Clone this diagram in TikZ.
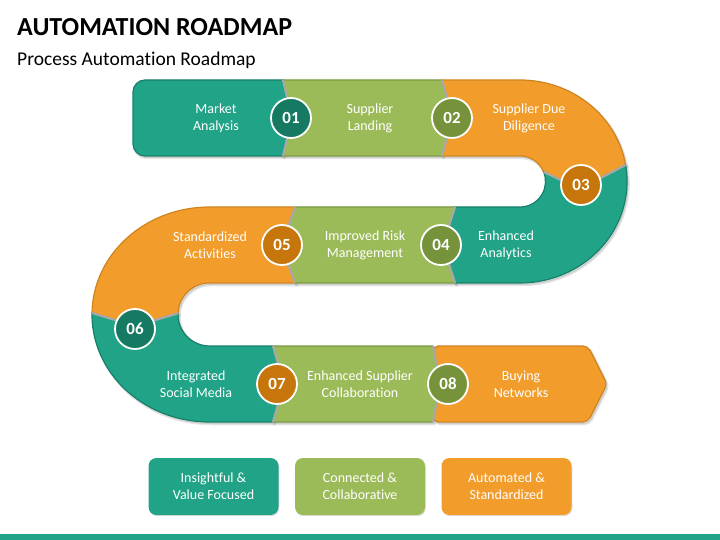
\documentclass[tikz,border=0pt]{standalone}
\usepackage{fontspec}
\setmainfont{Carlito}[Ligatures=NoCommon]
\usetikzlibrary{shadows}
\definecolor{cTeal}{HTML}{20A386}
\definecolor{cTealD}{HTML}{17806A}
\definecolor{cTealC}{HTML}{167A62}
\definecolor{cGreen}{HTML}{9BBB59}
\definecolor{cGreenD}{HTML}{7A9A3F}
\definecolor{cGreenC}{HTML}{76933C}
\definecolor{cOrange}{HTML}{F29C2B}
\definecolor{cOrangeD}{HTML}{CF8420}
\definecolor{cOrangeC}{HTML}{C7760C}
\definecolor{cSep}{HTML}{A8A8A8}
\begin{document}
\begin{tikzpicture}[x=1pt,y=-1pt,
  every node/.style={font=\fontsize{14}{17}\selectfont, text=white, align=center},
  seg/.style={line width=1.2pt, line join=round},
  tealseg/.style={seg, fill=cTeal, draw=cTealD},
  greenseg/.style={seg, fill=cGreen, draw=cGreenD},
  orangeseg/.style={seg, fill=cOrange, draw=cOrangeD},
  sepline/.style={draw=cSep, line width=2.2pt, line join=round},
  shadowfill/.style={fill=black, draw=black, line width=2.5pt, opacity=0.10},
  num/.style={circle, minimum size=40pt, inner sep=0pt, draw=white, line width=1.8pt,
    font=\fontsize{17}{17}\bfseries\selectfont},
  legendbox/.style={rounded corners=8pt, minimum width=130pt, minimum height=57pt,
    inner sep=0pt, drop shadow={shadow xshift=0.8pt, shadow yshift=-1.2pt, opacity=0.25}}
]
\useasboundingbox (0,0) rectangle (720,540);
\fill[white] (0,0) rectangle (720,540);

\def\pA{(133,92) arc[start angle=180,end angle=270,radius=12] -- (283,80) -- (292,118) -- (283,156) -- (145,156) arc[start angle=90,end angle=180,radius=12] -- cycle}
\def\pB{(283,80) -- (442,80) -- (452,118) -- (442,156) -- (283,156) -- (292,118) -- cycle}
\def\pC{(442,80) -- (520,80) arc[start angle=-90,end angle=-9.4,x radius=107,y radius=101.5] -- (580,189) -- (543.6,171.9) arc[start angle=-22,end angle=-90,radius=25.5] -- (442,156) -- (452,118) -- cycle}
\def\pD{(625.6,164.9) arc[start angle=-9.4,end angle=90,x radius=107,y radius=101.5] -- (455,283) -- (443,245) -- (455,207) -- (520,207) arc[start angle=90,end angle=-22,radius=25.5] -- (580,189) -- cycle}
\def\pE{(455,207) -- (295,207) -- (282,245) -- (295,283) -- (455,283) -- (443,245) -- cycle}
\def\pF{(295,207) -- (209.5,207) arc[start angle=-90,end angle=-179.2,x radius=117.5,y radius=107.5] -- (135,326) -- (178,313.4) arc[start angle=-178,end angle=-90,radius=31.5] -- (295,283) -- (282,245) -- cycle}
\def\pG{(92,313) arc[start angle=-179.2,end angle=-270,x radius=117.5,y radius=107.5] -- (273,422) -- (284,384) -- (273,346) -- (209.5,346) arc[start angle=90,end angle=182,radius=31.5] -- (135,326) -- cycle}
\def\pH{(273,346) -- (433,346) -- (440,384) -- (433,422) -- (273,422) -- (284,384) -- cycle}
\def\pI{(433,346) -- (588,346) -- (607,384) -- (588,422) -- (433,422) -- (440,384) -- cycle}

% shadows
\begin{scope}[shift={(1.5,2)}]
  \filldraw[shadowfill] \pA; \filldraw[shadowfill] \pB; \filldraw[shadowfill] \pC;
  \filldraw[shadowfill] \pD; \filldraw[shadowfill] \pE; \filldraw[shadowfill] \pF;
  \filldraw[shadowfill] \pG; \filldraw[shadowfill] \pH;
  \filldraw[shadowfill, rounded corners=5pt] \pI;
\end{scope}

% segments
\filldraw[tealseg] \pA;
\filldraw[greenseg] \pB;
\filldraw[orangeseg] \pC;
\filldraw[tealseg] \pD;
\filldraw[greenseg] \pE;
\filldraw[orangeseg] \pF;
\filldraw[tealseg] \pG;
\filldraw[greenseg] \pH;
\filldraw[orangeseg, rounded corners=5pt] \pI;

% separators
\draw[sepline] (283,80) -- (292,118) -- (283,156);
\draw[sepline] (442,80) -- (452,118) -- (442,156);
\draw[sepline] (625.6,164.9) -- (580,189) -- (543.6,171.9);
\draw[sepline] (455,207) -- (443,245) -- (455,283);
\draw[sepline] (295,207) -- (282,245) -- (295,283);
\draw[sepline] (92,313) -- (135,326) -- (178,313.4);
\draw[sepline] (273,346) -- (284,384) -- (273,422);
\draw[sepline] (433,346) -- (440,384) -- (433,422);

% step labels
\node (t1) at (216,118) {Market\\Analysis};
\node (t2) at (370,118) {Supplier\\Landing};
\node (t3) at (529,118) {Supplier Due\\Diligence};
\node (t4) at (506,245) {Enhanced\\Analytics};
\node (t5) at (365,245) {Improved Risk\\Management};
\node (t6) at (210,245) {Standardized\\Activities};
\node (t7) at (196,384) {Integrated\\Social Media};
\node (t8) at (360,384) {Enhanced Supplier\\Collaboration};
\node (t9) at (521,384) {Buying\\Networks};

% number circles
\node[num, fill=cTealC] (n1) at (291,118) {01};
\node[num, fill=cGreenC] (n2) at (452,118) {02};
\node[num, fill=cOrangeC] (n3) at (581,185) {03};
\node[num, fill=cGreenC] (n4) at (441,245) {04};
\node[num, fill=cOrangeC] (n5) at (282,245) {05};
\node[num, fill=cTealC] (n6) at (135,329) {06};
\node[num, fill=cOrangeC] (n7) at (277,384) {07};
\node[num, fill=cGreenC] (n8) at (448,384) {08};

% legend
\node[legendbox, fill=cTeal] (l1) at (213.5,486.5) {Insightful \&\\Value Focused};
\node[legendbox, fill=cGreen] (l2) at (360,486.5) {Connected \&\\Collaborative};
\node[legendbox, fill=cOrange] (l3) at (506.5,486.5) {Automated \&\\Standardized};

% bottom bar
\fill[cTeal] (0,534) rectangle (720,540);

% title
\node[anchor=base west, inner sep=0pt, text=black, font=\fontsize{26}{26}\bfseries\selectfont] (title) at (17,36) {AUTOMATION ROADMAP};
\node[anchor=base west, inner sep=0pt, text=black, font=\fontsize{19.5}{19.5}\selectfont] (sub) at (17,66) {Process Automation Roadmap};
\end{tikzpicture}
\end{document}
